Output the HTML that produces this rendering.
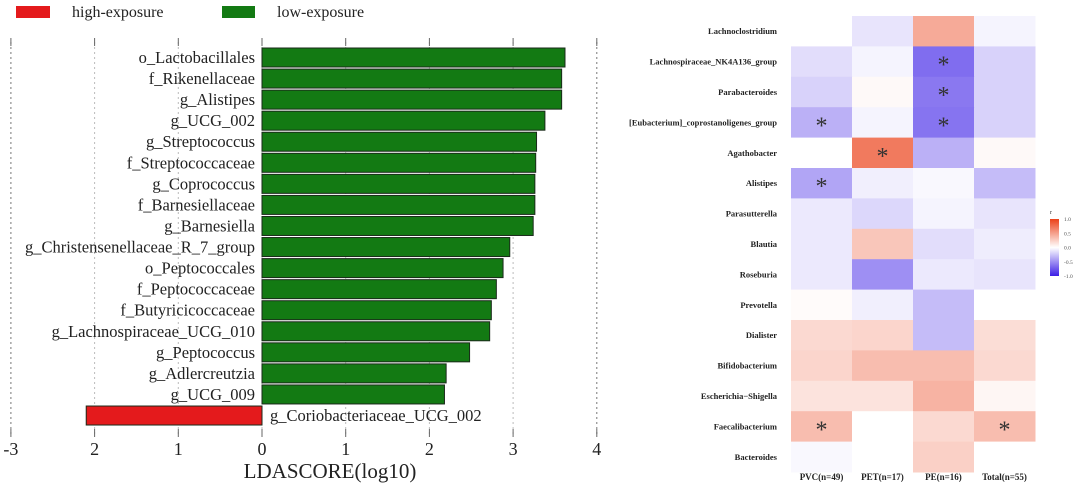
<!DOCTYPE html>
<html><head><meta charset="utf-8"><style>
body{margin:0;background:#fff;width:1080px;height:489px;overflow:hidden}
svg{display:block}
.s{font-family:"Liberation Serif",serif}
</style></head><body>
<svg width="1080" height="489" viewBox="0 0 1080 489">
<g id="left"></g>
<g id="right"></g>
</svg>
<script>
const taxa=["o_Lactobacillales","f_Rikenellaceae","g_Alistipes","g_UCG_002","g_Streptococcus","f_Streptococcaceae","g_Coprococcus","f_Barnesiellaceae","g_Barnesiella","g_Christensenellaceae_R_7_group","o_Peptococcales","f_Peptococcaceae","f_Butyricicoccaceae","g_Lachnospiraceae_UCG_010","g_Peptococcus","g_Adlercreutzia","g_UCG_009","g_Coriobacteriaceae_UCG_002"];
const ldaScores=[3.62,3.58,3.58,3.38,3.28,3.27,3.26,3.26,3.24,2.96,2.88,2.8,2.74,2.72,2.48,2.2,2.18,-2.1];
const xTicks=[-3,-2,-1,0,1,2,3,4];
const xTickLabels=["-3","2","1","0","1","2","3","4"];

const genera=["Lachnoclostridium","Lachnospiraceae_NK4A136_group","Parabacteroides","[Eubacterium]_coprostanoligenes_group","Agathobacter","Alistipes","Parasutterella","Blautia","Roseburia","Prevotella","Dialister","Bifidobacterium","Escherichia−Shigella","Faecalibacterium","Bacteroides"];
const groups=["PVC(n=49)","PET(n=17)","PE(n=16)","Total(n=55)"];
const rPVC=[0,-0.15,-0.2,-0.35,0,-0.4,-0.1,-0.1,-0.1,0.02,0.2,0.22,0.15,0.35,-0.03];
const rPET=[-0.12,-0.05,0.03,-0.05,0.7,-0.07,-0.18,0.3,-0.5,-0.07,0.22,0.35,0.15,0,0];
const rPE=[0.45,-0.65,-0.6,-0.62,-0.35,-0.03,-0.05,-0.15,-0.1,-0.3,-0.3,0.35,0.4,0.2,0.25];
const rTotal=[-0.05,-0.2,-0.2,-0.2,0.03,-0.3,-0.12,-0.08,-0.12,0,0.18,0.2,0.05,0.35,0];
const sigPVC=[0,0,0,1,0,1,0,0,0,0,0,0,0,1,0];
const sigPET=[0,0,0,0,1,0,0,0,0,0,0,0,0,0,0];
const sigPE=[0,1,1,1,0,0,0,0,0,0,0,0,0,0,0];
const sigTotal=[0,0,0,0,0,0,0,0,0,0,0,0,0,1,0];
const legendTicks=[1,0.5,0,-0.5,-1];
const legendLabels=["1.0","0.5","0.0","-0.5","-1.0"];

const NS="http://www.w3.org/2000/svg";
function mk(p,t,a,txt){const e=document.createElementNS(NS,t);for(const k in a)e.setAttribute(k,a[k]);if(txt!=null)e.textContent=txt;p.appendChild(e);return e;}
const L=document.getElementById('left'),R=document.getElementById('right');

let e=mk(L,'rect',{x:16,y:6,width:34,height:12,fill:'#e41a1c'});


e=mk(L,'text',{x:72,y:17,'font-size':16,class:'s',fill:'#222'},'high-exposure');


e=mk(L,'rect',{x:222,y:6,width:33,height:12,fill:'#137a13'});


e=mk(L,'text',{x:277,y:17,'font-size':16,class:'s',fill:'#222'},'low-exposure');



const x0=262,ux=83.7;
const X=v=>x0+v*ux;
const y0=48,pitch=21.06,bh=19;
xTicks.forEach((t,i)=>{
  const x=X(t);
  const edge=(i==0||i==xTicks.length-1);
  let g=mk(L,'line',{x1:x,x2:x,y1:42,y2:436,stroke:edge?'#777':'#bbb','stroke-width':1,'stroke-dasharray':'2,3'});
  
  
  mk(L,'line',{x1:x,x2:x,y1:38,y2:46,stroke:'#666','stroke-width':1});
  mk(L,'line',{x1:x,x2:x,y1:429,y2:437,stroke:'#666','stroke-width':1});
  let tl=mk(L,'text',{x:x,y:455,'font-size':18,class:'s','text-anchor':'middle',fill:'#222'},xTickLabels[i]);
  
  
});
taxa.forEach((n,i)=>{
  const v=ldaScores[i],y=y0+i*pitch;
  const pos=v>=0;
  let b=mk(L,'rect',{x:Math.min(X(0),X(v)),y:y,width:Math.abs(X(v)-X(0)),height:bh,fill:pos?'#137a13':'#e41a1c',stroke:'#1a2a1a','stroke-width':1});
  
  
  let t=mk(L,'text',{x:pos?255:X(0)+8,y:y+15,'font-size':16.5,class:'s','text-anchor':pos?'end':'start',fill:'#222'},n);
  
  
});
e=mk(L,'text',{x:330,y:478,'font-size':21,class:'s','text-anchor':'middle',fill:'#222'},'LDASCORE(log10)');



function col(r){
  if(r>=0){return `rgb(${Math.round(255-20*r)},${Math.round(255-190*r)},${Math.round(255-230*r)})`;}
  const a=-r;return `rgb(${Math.round(255-195*a)},${Math.round(255-225*a)},${Math.round(255-25*a)})`;
}
const hx0=791,cw=61,hy0=16,rh=30.4;
const cols=[rPVC,rPET,rPE,rTotal],sigs=[sigPVC,sigPET,sigPE,sigTotal];
genera.forEach((g,i)=>{
  const y=hy0+i*rh;
  let t=mk(R,'text',{x:777,y:y+rh/2+3,'font-size':8.5,'font-weight':'bold',class:'s','text-anchor':'end',fill:'#222'},g);
  
  
  cols.forEach((c,j)=>{
    let r=mk(R,'rect',{x:hx0+j*cw,y:y,width:cw+0.5,height:rh+0.5,fill:col(c[i])});
    
    
    if(sigs[j][i]){let s=mk(R,'text',{x:hx0+j*cw+cw/2,y:y+rh/2+11,'font-size':24,class:'s','text-anchor':'middle',fill:'#333'},'*');
      
      }
  });
});
groups.forEach((g,j)=>{
  let t=mk(R,'text',{x:hx0+j*cw+cw/2,y:480,'font-size':9,'font-weight':'bold',class:'s','text-anchor':'middle',fill:'#222'},g);
  
  
});
const defs=mk(R,'defs',{});
const lg=mk(defs,'linearGradient',{id:'cg',x1:0,y1:0,x2:0,y2:1});
[[0,1],[0.5,0],[1,-1]].forEach(([o,v])=>mk(lg,'stop',{offset:o,'stop-color':col(v)}));
const ly0=219,lh=57;
e=mk(R,'rect',{x:1050,y:ly0,width:9,height:lh,fill:'url(#cg)'});


e=mk(R,'text',{x:1050,y:214,'font-size':6,class:'s',fill:'#333'},'r');


legendTicks.forEach((v,i)=>{
  const y=ly0+(1-v)/2*lh;
  let t=mk(R,'text',{x:1064,y:y+2,'font-size':5.5,class:'s',fill:'#555'},legendLabels[i]);
  
  
});
</script>
</body></html>
